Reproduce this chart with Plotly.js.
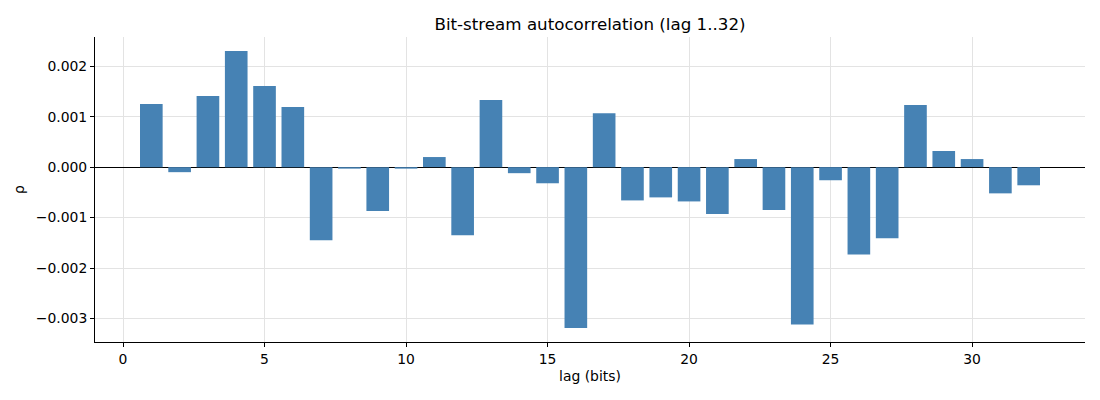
<!DOCTYPE html>
<html>
<head>
<meta charset="utf-8">
<script src="https://cdn.plot.ly/plotly-3.0.1.min.js"></script>
<style>
  html, body { margin: 0; padding: 0; background: #fff; }
  #plot { width: 1100px; height: 400px; }
</style>
</head>
<body>
<div id="plot"></div>
<script>
// lags 1..32 and their autocorrelation estimates
const lags = Array.from({ length: 32 }, (_, i) => i + 1);
const rho = [
  0.00125, -0.00010, 0.00141, 0.00230, 0.00161, 0.00119, -0.00145, -0.00003,
  -0.00087, -0.00003, 0.00020, -0.00135, 0.00133, -0.00012, -0.00032, -0.00319,
  0.00107, -0.00066, -0.00060, -0.00068, -0.00093, 0.00016, -0.00085, -0.00312,
  -0.00026, -0.00173, -0.00141, 0.00123, 0.00032, 0.00016, -0.00052, -0.00036
];
const xTicks = [0, 5, 10, 15, 20, 25, 30];
const yTicks = [-0.003, -0.002, -0.001, 0, 0.001, 0.002];

const font = { family: "DejaVu Sans, sans-serif", size: 13.9, color: "#000" };

const trace = {
  x: lags,
  y: rho,
  type: "bar",
  width: 0.8,
  marker: { color: "#4682b4", line: { width: 0 } },
  hoverinfo: "none"
};

const layout = {
  width: 1100,
  height: 400,
  margin: { l: 95, r: 15, t: 37, b: 58 },
  paper_bgcolor: "#fff",
  plot_bgcolor: "#fff",
  font: font,
  showlegend: false,
  title: {
    text: "Bit-stream autocorrelation (lag 1..32)",
    font: { family: font.family, size: 16.7, color: "#000" },
    xref: "paper", x: 0.5, xanchor: "center",
    yref: "container", y: 0.94, yanchor: "middle"
  },
  xaxis: {
    range: [-0.99, 33.99],
    tickvals: xTicks,
    ticktext: xTicks.map(String),
    ticks: "outside", ticklen: 4, tickcolor: "#000",
    showline: true, linecolor: "#000", linewidth: 1,
    showgrid: true, gridcolor: "#e3e3e3", gridwidth: 1,
    zeroline: false,
    title: { text: "lag (bits)", font: font, standoff: 5 }
  },
  yaxis: {
    range: [-0.003467, 0.00258],
    tickvals: yTicks,
    tickformat: ".3f",
    ticks: "outside", ticklen: 4, tickcolor: "#000",
    showline: true, linecolor: "#000", linewidth: 1,
    showgrid: true, gridcolor: "#e3e3e3", gridwidth: 1,
    zeroline: true, zerolinecolor: "#000", zerolinewidth: 1,
    title: { text: "ρ", font: font, standoff: 7 }
  }
};

Plotly.newPlot("plot", [trace], layout, { staticPlot: true, displayModeBar: false });
</script>
</body>
</html>
